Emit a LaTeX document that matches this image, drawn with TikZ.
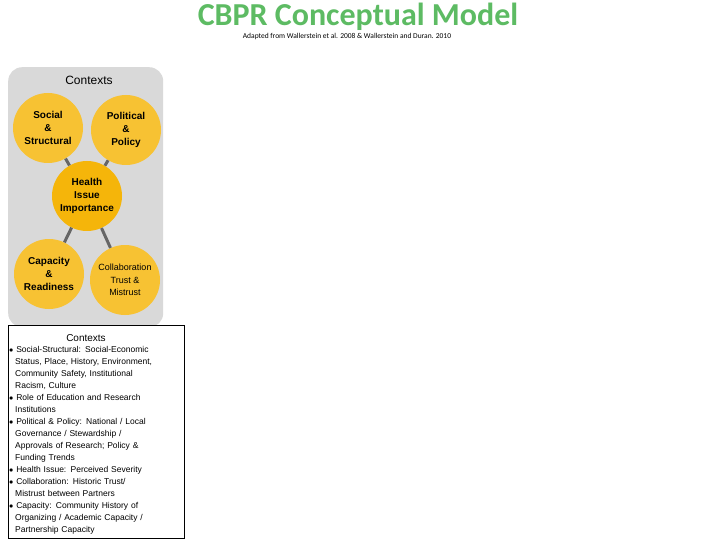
\documentclass[tikz,border=0pt]{standalone}
\usepackage{fontspec}
\setmainfont{Liberation Sans}
\newfontfamily\carl{Carlito}
\begin{document}
\begin{tikzpicture}[x=1pt,y=-1pt,
 circ/.style={circle,fill=#1,minimum size=70pt,inner sep=0pt,align=center,font=\fontsize{10}{13}\selectfont\bfseries},
 link/.style={draw=gray!80!black,line width=3pt}]
\definecolor{cy}{HTML}{F7C233}\definecolor{cc}{HTML}{F5B50A}\definecolor{tg}{HTML}{5DBB63}
\useasboundingbox (0,0) rectangle (720,540);
\node[font=\carl\fontsize{32}{33}\selectfont\bfseries,text=tg] (t) at (358,17) {CBPR Conceptual Model};
\node[font=\carl\fontsize{7.5}{8}\selectfont] (st) at (347,37) {Adapted from Wallerstein et al. 2008 \& Wallerstein and Duran. 2010};
\node[fill=gray!30,rounded corners=14pt,minimum width=155pt,minimum height=260pt,anchor=north west] (bg) at (8,67) {};
\node[font=\fontsize{12}{14}\selectfont] (ct) at (89,80) {Contexts};
\node[circ=cy] (s) at (48,128) {Social\\\&\\Structural};
\node[circ=cy] (p) at (126,130) {Political\\\&\\Policy};
\node[circ=cc] (h) at (87,196) {Health\\Issue\\Importance};
\node[circ=cy] (c) at (49,274) {Capacity\\\&\\Readiness};
\node[circ=cy,font=\fontsize{9}{12.5}\selectfont] (m) at (125,280) {Collaboration\\Trust \&\\Mistrust};
\draw[link] (s) -- (h);
\draw[link] (p) -- (h);
\draw[link] (h) -- (c);
\draw[link] (h) -- (m);
\node[draw,fill=white,minimum width=176pt,minimum height=213pt,anchor=north west] (box) at (8,325) {};
\node[font=\fontsize{10}{11}\selectfont] (bt) at (86,338) {Contexts};
\node[anchor=north west,align=left,text width=175pt,font=\fontsize{8.5}{12}\selectfont,inner sep=0pt] (bl) at (9,346) {%
$\bullet$ Social-Structural: Social-Economic\\\hspace*{6pt}Status, Place, History, Environment,\\\hspace*{6pt}Community Safety, Institutional\\\hspace*{6pt}Racism, Culture\\
$\bullet$ Role of Education and Research\\\hspace*{6pt}Institutions\\
$\bullet$ Political \& Policy: National / Local\\\hspace*{6pt}Governance / Stewardship /\\\hspace*{6pt}Approvals of Research; Policy \&\\\hspace*{6pt}Funding Trends\\
$\bullet$ Health Issue: Perceived Severity\\
$\bullet$ Collaboration: Historic Trust/\\\hspace*{6pt}Mistrust between Partners\\
$\bullet$ Capacity: Community History of\\\hspace*{6pt}Organizing / Academic Capacity /\\\hspace*{6pt}Partnership Capacity};
\end{tikzpicture}
\end{document}
